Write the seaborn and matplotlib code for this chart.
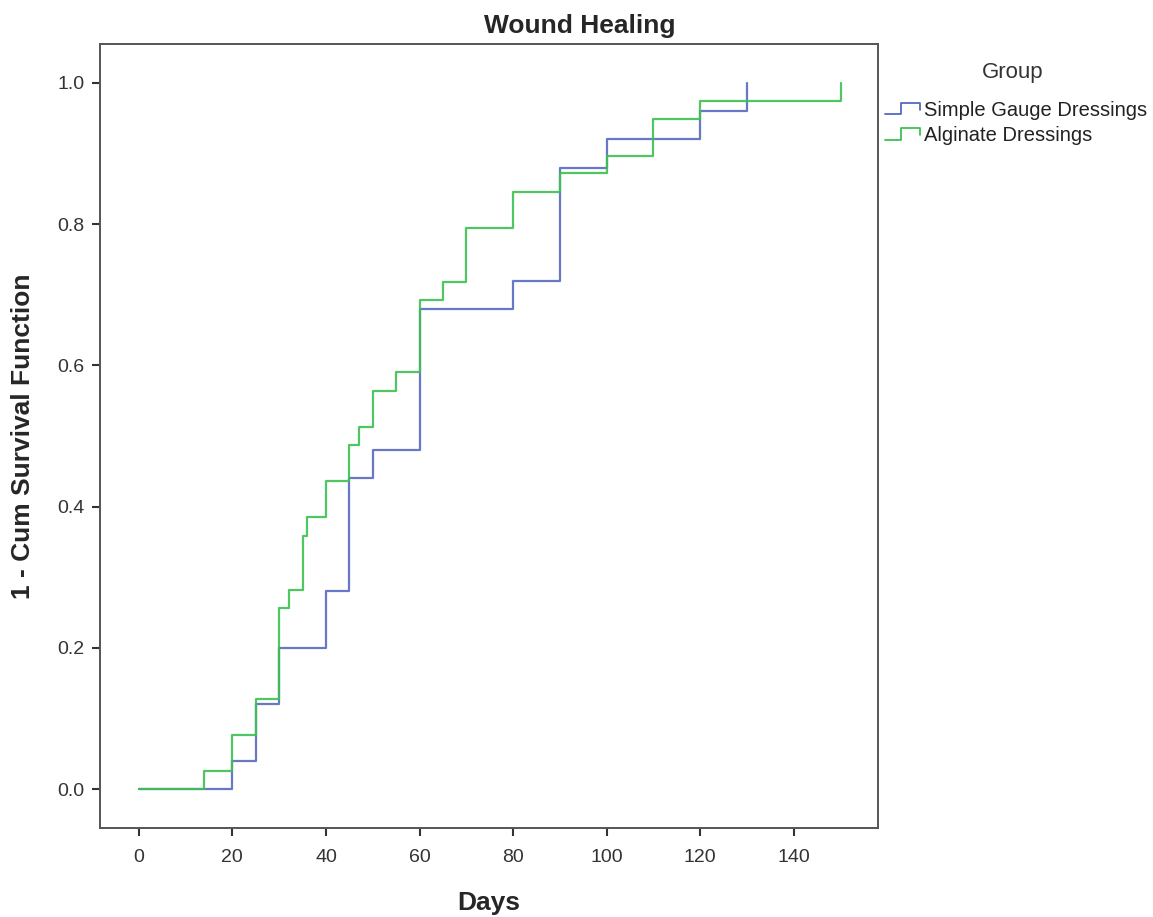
import pandas as pd
import numpy as np
import seaborn as sns
import matplotlib.pyplot as plt
from matplotlib.legend_handler import HandlerBase
from matplotlib.lines import Line2D

# step data (days, 1 - cum survival)
gauge_days = [0, 20, 25, 30, 40, 45, 50, 60, 80, 90, 100, 120, 130]
gauge_vals = [0.0, 0.04, 0.12, 0.20, 0.28, 0.44, 0.48, 0.68, 0.72, 0.88, 0.92, 0.96, 1.0]

alg_days = [0, 14, 20, 25, 30, 32, 35, 36, 40, 45, 47, 50, 55, 60, 65, 70, 80, 90, 100, 110, 120, 150]
alg_vals = [0.0, 0.026, 0.077, 0.128, 0.256, 0.282, 0.359, 0.385, 0.436, 0.487, 0.513, 0.564,
            0.590, 0.692, 0.718, 0.795, 0.846, 0.872, 0.897, 0.949, 0.974, 1.0]

groups = ["Simple Gauge Dressings", "Alginate Dressings"]
colors = ["#5868c0", "#3cc050"]

df = pd.concat([
    pd.DataFrame({"Days": gauge_days, "Cum": gauge_vals, "Group": groups[0]}),
    pd.DataFrame({"Days": alg_days, "Cum": alg_vals, "Group": groups[1]}),
])

sns.set_style("ticks")
plt.rcParams["font.family"] = ["Liberation Sans", "DejaVu Sans"]

fig = plt.figure(figsize=(11.53, 9.17), dpi=100)
ax = fig.add_axes([0.0867, 0.097, 0.6748, 0.855])

for g, c in zip(groups, colors):
    sns.lineplot(data=df[df.Group == g], x="Days", y="Cum", color=c, lw=1.6,
                 drawstyle="steps-post", estimator=None, ax=ax, alpha=0.9)

ax.set_xlim(-8.3, 158)
ax.set_ylim(-0.055, 1.055)
ax.set_xticks(np.arange(0, 141, 20))
ax.set_yticks(np.arange(0, 1.01, 0.2))
ax.set_yticklabels([f"{v:.1f}" for v in np.arange(0, 1.01, 0.2)])
ax.tick_params(labelsize=14, colors="#333333", length=6, width=1.5, direction="out")
ax.tick_params(axis="x", pad=9)
ax.tick_params(axis="y", pad=5)
for s in ax.spines.values():
    s.set_visible(True)
    s.set_color("#555555")
    s.set_linewidth(1.4)

ax.set_xlabel("Days", fontsize=19, fontweight="bold", labelpad=18)
ax.set_ylabel("1 - Cum Survival Function", fontsize=19, fontweight="bold", labelpad=16)
fig.text(0.503, 0.972, "Wound Healing", fontsize=19, fontweight="bold", ha="center", va="center")


class StepHandler(HandlerBase):
    def create_artists(self, legend, orig, xd, yd, w, h, fontsize, trans):
        xs = [xd, xd + 0.45 * w, xd + 0.45 * w, xd + w, xd + w]
        ys = [yd + 0.1 * h, yd + 0.1 * h, yd + 0.9 * h, yd + 0.9 * h, yd + 0.4 * h]
        ln = Line2D(xs, ys, color=orig.get_color(), lw=1.3, transform=trans)
        return [ln]


fig.text(0.878, 0.921, "Group", fontsize=16, color="#333333", ha="center", va="center")
handles = [Line2D([], [], color=c) for c in colors]
leg = fig.legend(handles, groups, loc="upper left",
                 bbox_to_anchor=(0.7675, 0.89), frameon=False, fontsize=14.5,
                 handler_map={Line2D: StepHandler()}, borderpad=0, borderaxespad=0,
                 handlelength=1.75, handletextpad=0.2, labelspacing=0.3)
for t in leg.get_texts():
    t.set_color("#222222")

fig.savefig("out.png", dpi=100)
